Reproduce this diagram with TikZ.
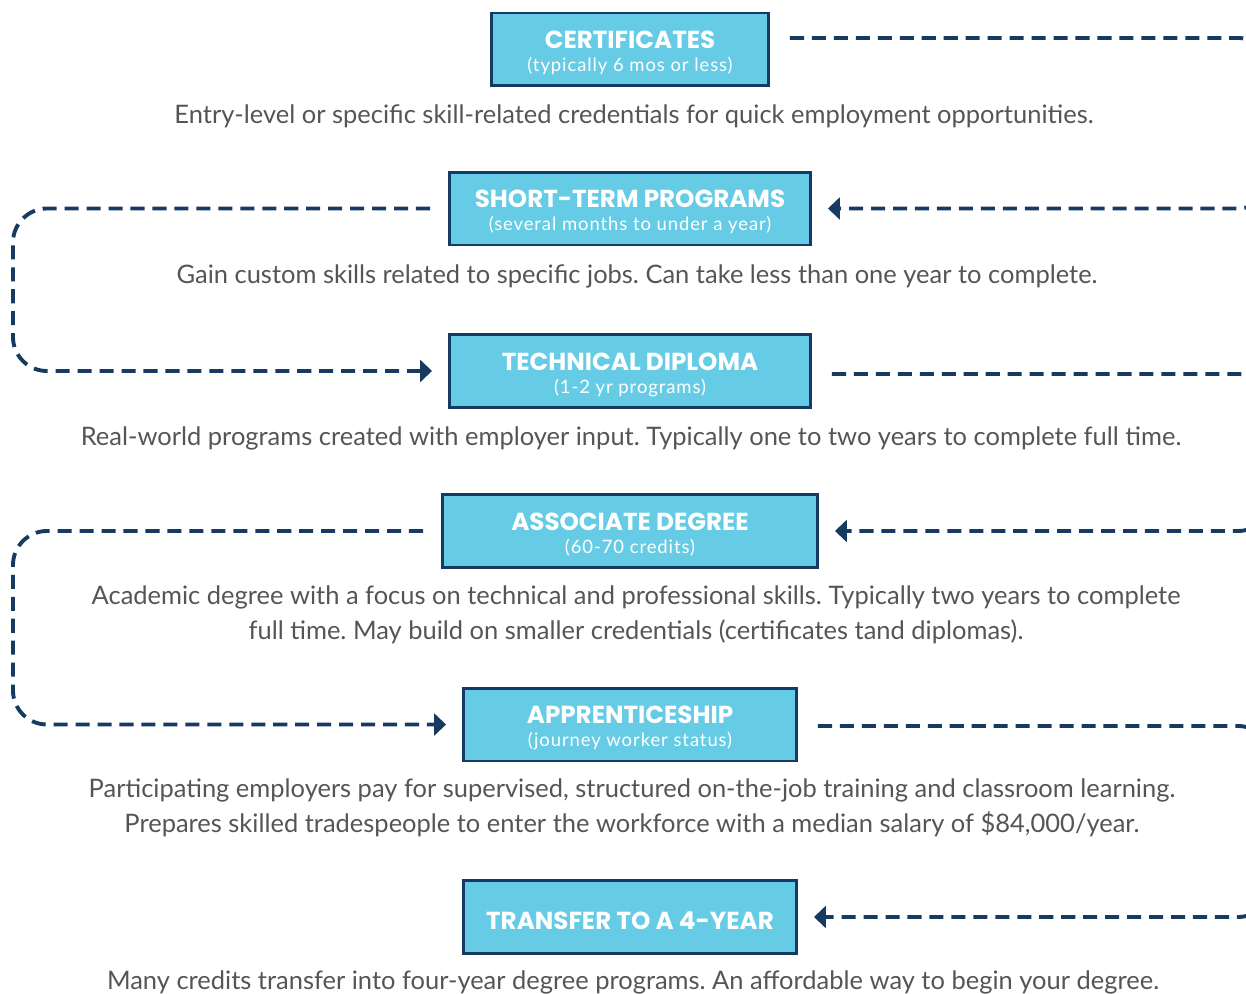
\documentclass[tikz,border=0pt]{standalone}
\usepackage{fontspec}
\setmainfont{Lato}
\newfontfamily\headfont{Poppins}
\newfontfamily\notefont[LetterSpace=5]{Lato}
\usetikzlibrary{arrows.meta}
\definecolor{skyfill}{RGB}{102,204,230}
\definecolor{navyline}{RGB}{22,58,98}
\definecolor{bodygray}{RGB}{85,85,85}
\frenchspacing
\newcommand{\boxtitle}[1]{{\headfont\bfseries\fontsize{14}{16}\selectfont\rule{0pt}{14pt}#1}}
\newcommand{\boxnote}[1]{{\notefont\fontsize{10.5}{12}\selectfont #1}}

\begin{document}
\begin{tikzpicture}[x=0.02cm, y=-0.02cm,
box/.style={rectangle, draw=navyline, fill=skyfill, line width=1.7pt,
text=white, align=center, minimum height=1.46cm, inner sep=0pt},
desc/.style={text=bodygray, align=center, font=\fontsize{14.5}{19.9}\selectfont},
flow/.style={draw=navyline, line width=2.2pt, dash pattern=on 8pt off 4.5pt,
rounded corners=0.68cm},
tip/.style={-{Triangle[length=0.24cm, width=0.44cm]}}]
  \useasboundingbox (0,0) rectangle (1246,993);
  \clip (0,0) rectangle (1246,993);
  % loop columns
  \coordinate (rgt) at (1272,0);
  \coordinate (lft) at (13,0);
  % certificates
  \node[box, minimum width=5.54cm] (cert) at (630,49.5)
    {\boxtitle{CERTIFICATES}\\[1pt]\boxnote{(typically 6 mos or less)}};
  \node[desc] (d1) at (634,116)
    {Entry-level or specific skill-related credentials for quick employment opportunities.};
  % short-term
  \node[box, minimum width=7.22cm] (short) at (630,208.5)
    {\boxtitle{SHORT-TERM PROGRAMS}\\[1pt]\boxnote{(several months to under a year)}};
  \node[desc] (d2) at (637,276)
    {Gain custom skills related to specific jobs. Can take less than one year to complete.};
  % diploma
  \node[box, minimum width=7.22cm] (tech) at (630,371)
    {\boxtitle{TECHNICAL DIPLOMA}\\[1pt]\boxnote{(1-2 yr programs)}};
  \node[desc] (d3) at (631,438)
    {Real-world programs created with employer input. Typically one to two years to complete full time.};
  % associate
  \node[box, minimum width=7.5cm] (assoc) at (630,531)
    {\boxtitle{ASSOCIATE DEGREE}\\[1pt]\boxnote{(60-70 credits)}};
  \node[desc] (d4) at (636,614.5)
    {Academic degree with a focus on technical and professional skills. Typically two years to complete\\
     full time. May build on smaller credentials (certificates tand diplomas).};
  % apprenticeship
  \node[box, minimum width=6.66cm] (appr) at (630,724.5)
    {\boxtitle{APPRENTICESHIP}\\[1pt]\boxnote{(journey worker status)}};
  \node[desc] (d5) at (632,807.5)
    {Participating employers pay for supervised, structured on-the-job training and classroom learning.\\
     Prepares skilled tradespeople to enter the workforce with a median salary of \$84,000/year.};
  % transfer
  \node[box, minimum width=6.66cm] (trans) at (630,917)
    {\boxtitle{TRANSFER TO A 4-YEAR}};
  \node[desc] (d6) at (633,982)
    {Many credits transfer into four-year degree programs. An affordable way to begin your degree.};

\foreach \from/\to/\lift in {cert/short/0.23, tech/assoc/-0.06, appr/trans/-0.03}
    \draw[flow, tip] ([xshift=0.4cm, yshift=\lift cm]\from.east) -| (rgt |- \to.east)
      -- ([xshift=0.32cm]\to.east);
\foreach \from/\to in {short/tech, assoc/appr}
    \draw[flow, tip] ([xshift=-0.36cm]\from.west) -| (lft |- \to.west)
      -- ([xshift=-0.32cm]\to.west);
\end{tikzpicture}
\end{document}
